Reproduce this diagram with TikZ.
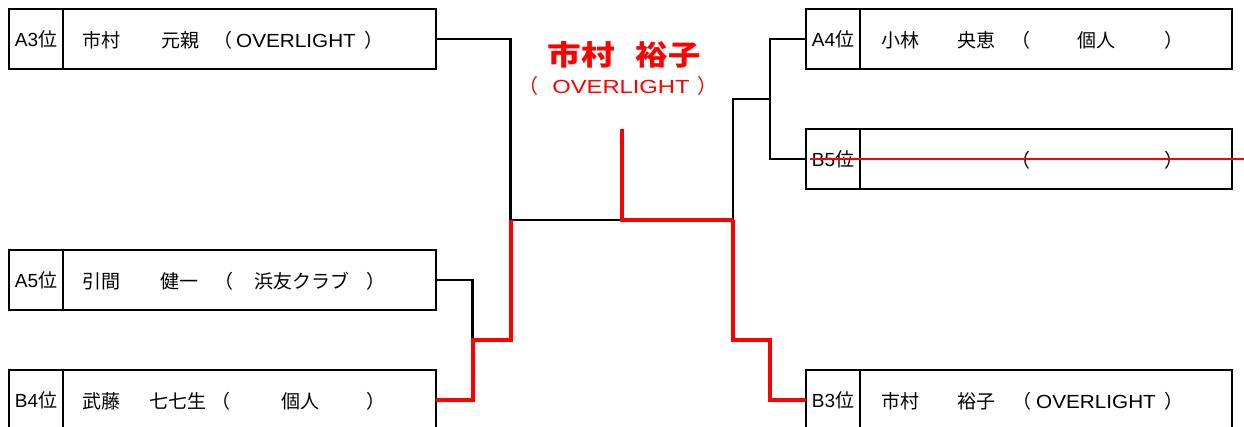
\documentclass[tikz,border=0pt]{standalone}
\usepackage{fontspec}
\usepackage{graphicx}
\setmainfont{Liberation Sans}
\newfontfamily\jp{Noto Sans CJK JP}
\definecolor{wred}{RGB}{255,0,0}
\begin{document}
\begin{tikzpicture}[x=1pt,y=-1pt,
  box/.style={draw, line width=2.2pt, minimum width=427pt, minimum height=60pt, inner sep=0pt, outer sep=0pt},
  rbox/.style={box, minimum width=426pt},
  conn/.style={line width=2.2pt, black},
  win/.style={line width=4pt, wred},
  strike/.style={line width=2.6pt, wred},
  txt/.style={anchor=base west, inner sep=0pt, font=\jp\fontsize{19}{19}\selectfont},
  lat/.style={txt, font=\fontsize{19}{19}\selectfont},
  lbl/.style={anchor=center, inner sep=0pt, font=\fontsize{19}{19}\selectfont},
  ttl/.style={anchor=center, inner sep=0pt, text=wred, font=\jp\bfseries\fontsize{28}{28}\selectfont},
  sub/.style={anchor=base, inner sep=0pt, text=wred, font=\fontsize{19}{19}\selectfont},
  subp/.style={anchor=base west, inner sep=0pt, text=wred, font=\jp\fontsize{20}{20}\selectfont}
]
\clip (0,0) rectangle (1244,426);
\fill[white] (0,0) rectangle (1244,426);

% boxes
\node[box] (a3) at (222.5,39) {};
\node[box] (a5) at (222.5,280) {};
\node[box] (b4) at (222.5,400) {};
\node[rbox] (a4) at (1019,39) {};
\node[rbox] (b5) at (1019,159) {};
\node[rbox] (b3) at (1019,400) {};
\foreach \b in {a3,a5,b4,a4,b5,b3}{
  \draw[line width=2.2pt] ([xshift=54pt]\b.north west) -- ([xshift=54pt]\b.south west);
}

% labels
\node[lbl] (la3) at (36,39) {A3{\jp 位}};
\node[lbl] (la5) at (36,280) {A5{\jp 位}};
\node[lbl] (lb4) at (36,400) {B4{\jp 位}};
\node[lbl] (la4) at (833,39) {A4{\jp 位}};
\node[lbl] (lb5) at (833,159) {B5{\jp 位}};
\node[lbl] (lb3) at (833,400) {B3{\jp 位}};

% row A3
\node[txt] (t1) at (82,47) {市村};
\node[txt] (t2) at (161,47) {元親};
\node[txt] (t3) at (213,47) {（};
\node[lat] (t4) at (236,47) {\scalebox{1.09}[1]{OVERLIGHT}};
\node[txt] (t5) at (364,47) {）};
% row A5
\node[txt] (t6) at (82,288) {引間};
\node[txt] (t7) at (160,288) {健一};
\node[txt] (t8) at (214,288) {（};
\node[txt] (t9) at (254,288) {浜友クラブ};
\node[txt] (t10) at (366,288) {）};
% row B4
\node[txt] (t11) at (82,408) {武藤};
\node[txt] (t12) at (149,408) {七七生};
\node[txt] (t13) at (211,408) {（};
\node[txt] (t14) at (281,408) {個人};
\node[txt] (t15) at (366,408) {）};
% row A4
\node[txt] (t16) at (881,47) {小林};
\node[txt] (t17) at (957,47) {央恵};
\node[txt] (t18) at (1011,47) {（};
\node[txt] (t19) at (1077,47) {個人};
\node[txt] (t20) at (1164,47) {）};
% row B5
\node[txt] (t21) at (1011,167) {（};
\node[txt] (t22) at (1164,167) {）};
% row B3
\node[txt] (t23) at (881,408) {市村};
\node[txt] (t24) at (957,408) {裕子};
\node[txt] (t25) at (1012,408) {（};
\node[lat] (t26) at (1036,408) {\scalebox{1.09}[1]{OVERLIGHT}};
\node[txt] (t27) at (1164,408) {）};

% champion
\node[ttl] (c1) at (581,55) {\scalebox{1.2}[1]{市村}};
\node[ttl] (c2) at (668,55) {\scalebox{1.15}[1]{裕子}};
\node[sub] (c3) at (621,93) {\scalebox{1.25}[1]{OVERLIGHT}};
\node[subp] (c4) at (518,93) {（};
\node[subp] (c5) at (697,93) {）};

% junctions
\coordinate (j1) at (510.5,220);
\coordinate (j2) at (472.5,340);
\coordinate (j3) at (621.5,220);
\coordinate (j4) at (733,220);
\coordinate (j5) at (770,99);
\coordinate (j7) at (770,340);
\coordinate (top) at (621.5,129);
\coordinate (send) at (1244,159);

% black connectors
\draw[conn] (a3.east) -| (j1);
\draw[conn] (a5.east) -| (j2);
\draw[conn] (j1) -- (j3);
\draw[conn] (a4.west) -| (j5);
\draw[conn] (b5.west) -| (j5);
\draw[conn] (j4) |- (j5);

% winner path
\draw[win] (b4.east) -| (j2) -| (j1);
\draw[win] (top) -- (j3) -- (j4);
\draw[win] (j4) |- (j7) |- (b3.west);
\draw[strike] ([xshift=4pt]b5.west) -- (send);
\end{tikzpicture}
\end{document}
